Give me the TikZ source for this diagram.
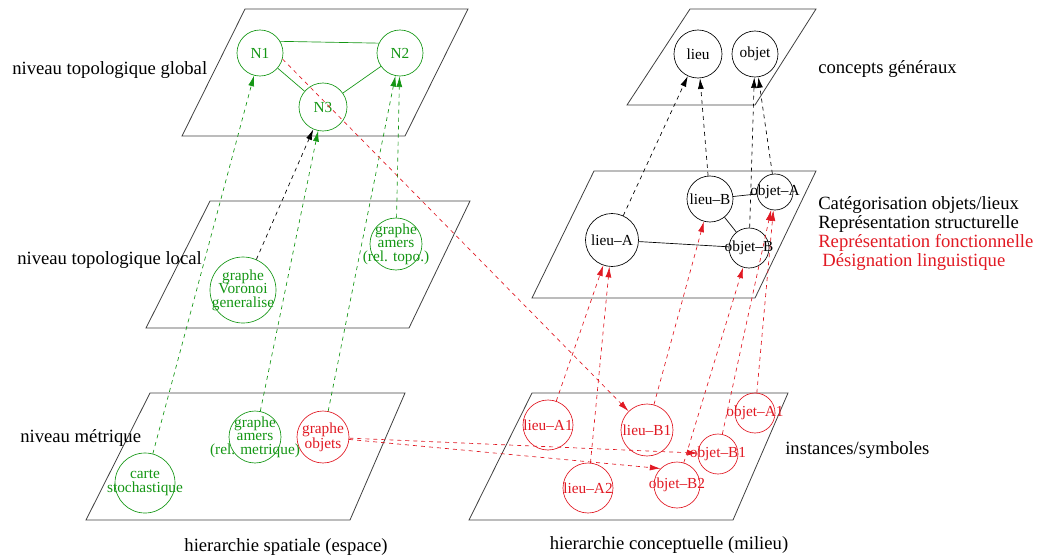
\documentclass[tikz,border=0pt]{standalone}
\usepackage{fontspec}
\setmainfont{Liberation Serif}
\usetikzlibrary{arrows.meta}
\definecolor{vertf}{RGB}{20,150,20}
\definecolor{rougef}{RGB}{225,25,35}

\begin{document}
\begin{tikzpicture}[x=0.75pt, y=-0.75pt,
  plan/.style={draw=black!75, line width=0.6pt},
  cercle/.style={circle, draw, line width=0.5pt, inner sep=0pt, minimum size={#1*0.75pt}},
  vert/.style={draw=vertf},
  rouge/.style={draw=rougef},
  lien/.style={dashed, line width=0.5pt, -{Latex[length=8pt,width=4.5pt]}},
  titre/.style={font=\fontsize{14}{16}\selectfont, inner sep=0pt},
  every label/.style={font=\fontsize{11.5}{10.2}\selectfont, align=center, inner sep=0pt}]
  \useasboundingbox (0,0) rectangle (1046,558);
  % the six planes
  \foreach \yb/\yt/\a/\b/\c/\d in {136/9/182/405/468/245, 328/201/146/409/470/210,
      520/393/86/350/405/150, 105/9/627/755/816/690, 298/171/532/755/816/594,
      520/393/469/733/788/532} {
    \draw[plan] (\a,\yb) -- (\b,\yb) -- (\c,\yt) -- (\d,\yt) -- cycle;
  }
  % hierarchie spatiale
  \node[cercle=46, vert, label={[vertf]center:N1}] (N1) at (260,53) {};
  \node[cercle=46, vert, label={[vertf]center:N2}] (N2) at (400,53) {};
  \node[cercle=48, vert, label={[vertf]center:N3}] (N3) at (323,107) {};
  \node[cercle=66, vert, label={[vertf]center:graphe\\Voronoi\\generalise}] (voronoi) at (243,290) {};
  \node[cercle=52, vert, label={[vertf]center:graphe\\amers\\(rel. topo.)}] (amtopo) at (396,244) {};
  \node[cercle=60, vert, label={[vertf]center:carte\\stochastique}] (carte) at (145,483) {};
  \node[cercle=52, vert, label={[vertf]center:graphe\\amers\\(rel. metrique)}] (ammetr) at (255,437) {};
  \node[cercle=52, rouge, label={[rougef]center:graphe\\objets}] (objets) at (323,437) {};
  % hierarchie conceptuelle
  \node[cercle=48, label={center:lieu}] (lieu) at (698,54) {};
  \node[cercle=46, label={center:objet}] (objet) at (755,54) {};
  \node[cercle=53, label={center:lieu--A}] (lieuA) at (612,240) {};
  \node[cercle=46, label={center:lieu--B}] (lieuB) at (710,199) {};
  \node[cercle=36, label={center:objet--A}] (objetA) at (775,192) {};
  \node[cercle=40, label={center:objet--B}] (objetB) at (749,248) {};
  \node[cercle=50, rouge, label={[rougef]center:lieu--A1}] (lieuA1) at (548,425) {};
  \node[cercle=52, rouge, label={[rougef]center:lieu--B1}] (lieuB1) at (647,430) {};
  \node[cercle=40, rouge, label={[rougef]center:objet--A1}] (objetA1) at (755,413) {};
  \node[cercle=40, rouge, label={[rougef]center:objet--B1}] (objetB1) at (718,454) {};
  \node[cercle=50, rouge, label={[rougef]center:lieu--A2}] (lieuA2) at (588,488) {};
  \node[cercle=46, rouge, label={[rougef]center:objet--B2}] (objetB2) at (677,485) {};
  % texts
  \node[titre, anchor=west] (tglobal) at (12,70) {niveau topologique global};
  \node[titre, anchor=west] (tlocal) at (17,260) {niveau topologique local};
  \node[titre, anchor=west] (tmetr) at (20,438) {niveau métrique};
  \node[titre] (tspat) at (286,547) {hierarchie spatiale (espace)};
  \node[titre] (tconc) at (669,545) {hierarchie conceptuelle (milieu)};
  \node[titre, anchor=west] (tgen) at (818,69) {concepts généraux};
  \node[titre, anchor=west] (tcat) at (818,205) {Catégorisation objets/lieux};
  \node[titre, anchor=west] (tstruc) at (818,224) {Représentation structurelle};
  \node[titre, anchor=west, rougef] (tfonc) at (818,243) {Représentation fonctionnelle};
  \node[titre, anchor=west, rougef] (tling) at (822,262) {Désignation linguistique};
  \node[titre, anchor=west] (tinst) at (785,450) {instances/symboles};
  % edges
  \draw[vertf, line width=0.5pt] (N1.30) -- (N2.155) (N1) -- (N3) (N2) -- (N3);
  \draw[line width=0.5pt] (lieuA) -- (objetB) (lieuB) -- (objetA) (lieuB) -- (objetB);
  % arrows
  \foreach \a/\b in {carte/N1, ammetr/N3, objets/N2, amtopo/N2}
    \draw[lien, vertf] (\a) -- (\b);
  \draw[lien] (voronoi) -- (N3);
  \draw[lien, rougef] (N1.-15) -- (lieuB1);
  \draw[lien, rougef] (objets) -- (objetB1);
  \draw[lien, rougef] (objets) -- (objetB2.135);
  \foreach \a/\b in {lieuA1/lieuA, lieuA2/lieuA, lieuB1/lieuB, objetB2/objetB, objetB1/objetA, objetA1/objetA}
    \draw[lien, rougef] (\a) -- (\b);
  \foreach \a/\b in {lieuA/lieu, lieuB/lieu, objetB/objet, objetA/objet}
    \draw[lien] (\a) -- (\b);
\end{tikzpicture}
\end{document}
